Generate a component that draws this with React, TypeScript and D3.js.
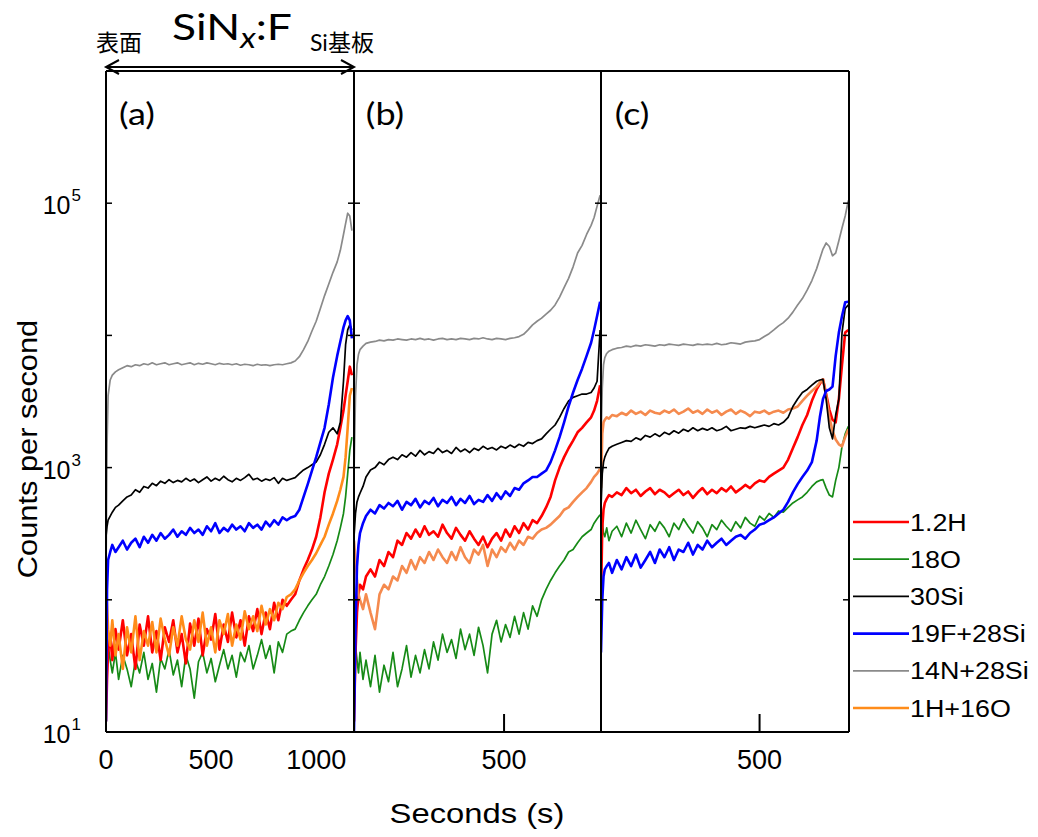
import React from "react";
import * as d3 from "d3";

// ---------- data: counts per second vs. sputter time (s) ----------
const seriesNames = ["1.2H", "18O", "30Si", "19F+28Si", "14N+28Si", "1H+16O"];
const seriesColors = ["#ff0000", "#168a16", "#000000", "#0000ff", "#8a8a8a", "#ff8c1a"];
const panelLabels = ["(a)", "(b)", "(c)"];
const yLabelExps = [1, 3, 5];
const xTickLabelsA = [0, 500, 1000];
const xTickLabelsB = [500];
const xTickLabelsC = [500];

// panel (a)
const timesA = [0, 5, 10, 20, 30, 45, 60,
  80, 100, 120, 140, 160, 180, 200, 220, 240, 260,
  280, 300, 320, 340, 360, 380, 400, 420, 440, 460,
  480, 500, 520, 540, 560, 580, 600, 620, 640, 660,
  680, 700, 720, 740, 760, 780, 800, 820, 840, 860,
  880, 900, 920, 940, 960, 980, 1000, 1020, 1040, 1060,
  1080, 1100, 1115, 1130, 1140, 1150, 1160, 1170];
const h12A = [12, 25, 40, 55, 35, 60, 42,
  70, 38, 55, 30, 65, 45, 75, 40, 58, 35,
  62, 48, 70, 40, 55, 33, 66, 45, 72, 38,
  60, 50, 78, 42, 65, 48, 80, 52, 70, 45,
  75, 58, 85, 55, 80, 60, 95, 70, 100, 90,
  100, 110, 140, 170, 200, 240, 300, 420, 650, 900,
  1150, 1500, 2000, 2700, 3500, 4500, 5800, 5000];
const o18A = [40, 60, 45, 35, 28, 40, 25,
  38, 30, 22, 35, 28, 40, 25, 33, 20, 36,
  30, 42, 27, 35, 22, 38, 30, 18, 34, 40,
  28, 36, 24, 32, 42, 30, 38, 26, 40, 34,
  45, 30, 38, 50, 36, 45, 28, 48, 40, 55,
  58, 60, 70, 80, 90, 100, 110, 130, 150, 180,
  220, 280, 350, 450, 600, 900, 1350, 1700];
const si30A = [300, 360, 400, 430, 460, 500, 520,
  560, 600, 620, 680, 650, 720, 700, 760, 730, 790,
  760, 810, 770, 800, 780, 830, 790, 820, 770, 810,
  850, 790, 830, 800, 860, 810, 780, 830, 800, 840,
  890, 810, 830, 790, 820, 800, 840, 760, 830, 800,
  820, 840, 900, 960, 1000, 1050, 1100, 1250, 1500, 1850,
  2000, 1800, 2200, 4500, 8500, 11000, 12000, 11000];
const f19A = [12, 120, 200, 230, 260, 230, 250,
  280, 240, 270, 290, 250, 300, 270, 310, 280, 320,
  290, 310, 340, 300, 330, 310, 350, 320, 340, 310,
  360, 330, 380, 320, 350, 330, 370, 340, 360, 330,
  380, 350, 370, 340, 390, 360, 400, 370, 420, 400,
  420, 430, 480, 600, 750, 950, 1200, 1550, 2000, 3000,
  4800, 7000, 9000, 11500, 13000, 14000, 13000, 9500];
const n14A = [150, 1500, 3500, 4600, 5000, 5300, 5500,
  5700, 5900, 5800, 6000, 5900, 6100, 6000, 6200, 6000, 6100,
  6200, 6000, 6100, 6200, 6000, 6100, 6200, 6000, 6150, 6050,
  6200, 6100, 6000, 6150, 6050, 6100, 6000, 6100, 5950, 6050,
  6000, 5900, 6050, 5950, 6000, 5900, 6000, 6050, 6000, 6100,
  6200, 6400, 6900, 7800, 9000, 10800, 12800, 16000, 20000, 24500,
  30000, 36000, 44000, 58000, 70000, 84000, 80000, 62000];
const oh17A = [120, 90, 60, 45, 70, 38, 55,
  30, 62, 40, 75, 35, 58, 45, 68, 40, 72,
  50, 38, 62, 45, 75, 50, 42, 70, 48, 80,
  45, 62, 40, 70, 55, 78, 45, 65, 50, 82,
  60, 75, 58, 90, 65, 85, 70, 95, 85, 105,
  110, 120, 140, 160, 180, 200, 225, 260, 300, 370,
  450, 560, 680, 850, 1200, 2000, 3500, 4000];

// panel (b)
const timesB = [0, 5, 10, 15, 20, 30, 40,
  55, 70, 85, 100, 115, 130, 145, 160, 175, 190,
  205, 220, 235, 250, 265, 280, 295, 310, 325, 340,
  355, 370, 385, 400, 415, 430, 445, 460, 475, 490,
  505, 520, 535, 550, 565, 580, 595, 610, 625, 640,
  655, 670, 685, 700, 715, 730, 745, 760, 775, 790,
  800, 810, 820];
const h12B = [12, 40, 80, 110, 130, 120, 150,
  170, 150, 200, 180, 230, 210, 280, 260, 320, 290,
  340, 300, 360, 310, 330, 300, 370, 320, 290, 350,
  310, 280, 330, 290, 260, 300, 250, 290, 320, 280,
  340, 300, 360, 320, 380, 340, 400, 380, 430, 500,
  600, 800, 1000, 1200, 1400, 1600, 1850, 2000, 2200, 2400,
  2700, 3200, 4200];
const o18B = [60, 45, 35, 28, 40, 25, 35,
  22, 38, 20, 32, 24, 40, 22, 30, 45, 26,
  38, 28, 42, 30, 48, 35, 55, 40, 50, 36,
  60, 42, 55, 38, 62, 45, 28, 55, 70, 48,
  65, 52, 75, 55, 80, 60, 90, 75, 100, 120,
  140, 160, 180, 200, 230, 240, 270, 300, 320, 340,
  380, 410, 440];
const si30B = [300, 450, 550, 600, 640, 720, 850,
  960, 1000, 1100, 1050, 1150, 1200, 1150, 1250, 1200, 1300,
  1220, 1350, 1250, 1320, 1280, 1400, 1300, 1350, 1280, 1420,
  1320, 1380, 1300, 1400, 1350, 1450, 1380, 1420, 1360, 1450,
  1400, 1480, 1420, 1500, 1450, 1550, 1520, 1600, 1650, 1800,
  1950, 2100, 2400, 2800, 3200, 3400, 3500, 3600, 3600, 3700,
  4000, 4500, 11000];
const f19B = [10, 60, 180, 260, 320, 380, 430,
  480, 450, 520, 490, 540, 510, 560, 480, 550, 520,
  580, 500, 560, 530, 590, 510, 570, 540, 600, 520,
  580, 540, 610, 530, 570, 550, 620, 560, 640, 580,
  660, 610, 700, 680, 760, 800, 850, 850, 900, 950,
  1100, 1350, 1700, 2200, 2900, 3700, 4600, 5600, 7000, 8800,
  11000, 14000, 18000];
const n14B = [900, 3500, 6000, 7200, 7800, 8300, 8700,
  8900, 9000, 9200, 9100, 9300, 9200, 9400, 9300, 9200, 9400,
  9300, 9500, 9300, 9400, 9200, 9400, 9500, 9300, 9400, 9300,
  9500, 9400, 9300, 9500, 9400, 9600, 9400, 9300, 9500, 9400,
  9300, 9500, 9600, 9800, 10200, 11000, 12000, 12800, 13500, 14500,
  15500, 17000, 19500, 23000, 27000, 33000, 42000, 48000, 58000, 68000,
  78000, 95000, 115000];
const oh17B = [280, 200, 140, 110, 100, 85, 110,
  80, 60, 110, 130, 120, 150, 140, 180, 160, 200,
  170, 210, 190, 230, 200, 240, 210, 190, 230, 200,
  250, 210, 190, 240, 220, 260, 180, 240, 210, 250,
  230, 270, 240, 280, 260, 300, 290, 320, 340, 350,
  370, 400, 430, 480, 500, 550, 600, 650, 700, 780,
  850, 900, 980];

// panel (c)
const timesC = [0, 4, 8, 12, 18, 25, 35,
  50, 65, 80, 95, 110, 125, 140, 155, 170, 185,
  200, 215, 230, 245, 260, 275, 290, 305, 320, 335,
  350, 365, 380, 395, 410, 425, 440, 455, 470, 485,
  500, 515, 530, 545, 560, 575, 590, 605, 620, 635,
  650, 665, 680,
  690, 700, 710, 720, 730, 740, 750, 760, 770, 780];
const h12C = [100, 350, 480, 540, 580, 620, 600,
  650, 620, 700, 640, 680, 610, 660, 700, 630, 680,
  650, 600, 640, 680, 620, 660, 590, 650, 700, 630,
  680, 640, 700, 660, 720, 650, 690, 740, 700, 760,
  800, 780, 850, 900, 950, 1000, 1150, 1400, 1700, 2100,
  2500, 3200, 3900,
  4300, 4650, 3600, 2750, 2300, 2200, 3300, 6000, 10500, 11000];
const o18C = [450, 380, 320, 300, 350, 280, 330,
  360, 300, 380, 320, 400, 340, 290, 370, 330, 390,
  350, 300, 380, 340, 410, 360, 320, 390, 350, 300,
  370, 340, 400, 360, 330, 390, 350, 420, 380, 360,
  430, 400, 450, 420, 470, 460, 500, 540, 570, 600,
  650, 720, 780,
  800, 810, 700, 620, 600, 800, 1000, 1450, 1800, 2050];
const si30C = [500, 900, 1100, 1200, 1300, 1400, 1450,
  1500, 1550, 1600, 1580, 1680, 1620, 1750, 1700, 1800, 1720,
  1850, 1780, 1900, 1820, 1950, 1880, 2000, 1900, 1980, 1920,
  2000, 1900, 1950, 2050, 1900, 1950, 2000, 1980, 2050, 2000,
  2050, 2100, 2050, 2150, 2100, 2200, 2400, 2900, 3300, 3700,
  3900, 4200, 4500,
  4600, 4650, 3300, 2000, 1650, 2500, 3300, 10500, 16000, 17000];
const f19C = [40, 100, 150, 170, 180, 190, 160,
  200, 170, 210, 180, 220, 175, 200, 230, 190, 240,
  210, 250, 200, 240, 230, 270, 220, 260, 240, 280,
  250, 270, 290, 260, 280, 300, 310, 290, 320, 340,
  370, 380, 400, 420, 450, 480, 550, 650, 750, 850,
  950, 1100, 1600,
  2400, 3300, 3800, 3900, 4100, 7000, 10500, 14000, 17800, 18000];
const n14C = [1500, 4000, 6000, 6800, 7300, 7600, 7800,
  8000, 8100, 8300, 8200, 8400, 8300, 8500, 8400, 8300, 8500,
  8400, 8600, 8500, 8400, 8600, 8500, 8400, 8600, 8500, 8600,
  8500, 8700, 8500, 8600, 8800, 8700, 8600, 8900, 9000, 9100,
  9300, 9800, 10300, 11000, 11800, 12500, 13500, 15000, 17000, 19000,
  22000, 26000, 32000,
  38000, 45000, 50000, 47000, 40000, 42000, 52000, 65000, 80000, 105000];
const oh17C = [700, 1800, 2200, 2300, 2400, 2350, 2500,
  2450, 2600, 2500, 2700, 2550, 2650, 2500, 2700, 2600, 2550,
  2700, 2600, 2750, 2550, 2650, 2800, 2600, 2700, 2550, 2750,
  2600, 2700, 2500, 2650, 2750, 2550, 2700, 2600, 2450, 2650,
  2600, 2700, 2550, 2650, 2700, 2600, 2750, 2800, 2900, 3200,
  3500, 3800, 4100,
  4400, 4650, 3500, 2400, 1900, 1630, 1500, 1450, 1700, 1950];

// ---------- layout ----------
const W = 1038;
const H = 837;
const TOP = 71;
const BOTTOM = 732;
const EDGES = [106, 354, 601, 849];

const panels = [
  { label: panelLabels[0], times: timesA, tMax: 1180, series: [h12A, o18A, si30A, f19A, n14A, oh17A], orange: "#ff8c1a", ticks: xTickLabelsA, tickMarks: false },
  { label: panelLabels[1], times: timesB, tMax: 823, series: [h12B, o18B, si30B, f19B, n14B, oh17B], orange: "#f58a4e", ticks: xTickLabelsB, tickMarks: true },
  { label: panelLabels[2], times: timesC, tMax: 782, series: [h12C, o18C, si30C, f19C, n14C, oh17C], orange: "#f58a4e", ticks: xTickLabelsC, tickMarks: true },
];

const widths = [2.6, 1.7, 1.7, 2.6, 1.7, 2.6];
const drawOrder = [4, 1, 0, 5, 2, 3];

const SANS = "'Liberation Sans', Arial, sans-serif";
const HUMAN = "Lato, 'Open Sans', sans-serif";
const CJK = "'Noto Sans CJK JP', 'Noto Sans CJK SC', sans-serif";

function St({ x, y, sx = 1, fs, family, anchor = "start", rotate = 0, children }: any) {
  const tr = `translate(${x},${y})${rotate ? ` rotate(${rotate})` : ""} scale(${sx},1)`;
  return (
    <text transform={tr} fontSize={fs} fontFamily={family} textAnchor={anchor} fill="#000">
      {children}
    </text>
  );
}

export default function App() {
  const y = d3.scaleLog().domain([10, 1e6]).range([BOTTOM, TOP]).clamp(true);
  const decades = d3.range(1, 7).map((e) => Math.pow(10, e));

  return (
    <svg width={W} height={H} style={{ position: "absolute", left: 0, top: 0, background: "#fff" }}>
      <defs>
        {panels.map((p, i) => (
          <clipPath id={`clip${i}`} key={i}>
            <rect x={EDGES[i]} y={TOP} width={EDGES[i + 1] - EDGES[i]} height={BOTTOM - TOP} />
          </clipPath>
        ))}
      </defs>
      <rect x={0} y={0} width={W} height={H} fill="#fff" />

      {panels.map((p, i) => {
        const x = d3.scaleLinear().domain([0, p.tMax]).range([EDGES[i], EDGES[i + 1]]);
        const line = d3
          .line<number>()
          .x((_, k) => x(p.times[k]))
          .y((v) => y(Math.max(10.2, v)));
        return (
          <g key={i}>
            <g clipPath={`url(#clip${i})`}>
              {drawOrder.map((s) => (
                <path
                  key={s}
                  d={line(p.series[s]) || ""}
                  fill="none"
                  stroke={s === 5 ? p.orange : seriesColors[s]}
                  strokeWidth={widths[s]}
                  strokeLinejoin="round"
                />
              ))}
            </g>
            {p.ticks.map((t) => (
              <g key={t}>
                {p.tickMarks && (
                  <line x1={x(t)} x2={x(t)} y1={BOTTOM} y2={BOTTOM - 18} stroke="#000" strokeWidth={2} />
                )}
                <St x={x(t)} y={769} fs={27} family={SANS} anchor="middle">{t}</St>
              </g>
            ))}
            <St x={EDGES[i] + 31} y={125} fs={30} sx={1.2} family={HUMAN} anchor="middle">{p.label}</St>
            {/* y ticks, pointing into this panel from both of its edges */}
            {decades.map((d) => (
              <g key={d}>
                <line x1={EDGES[i]} x2={EDGES[i] + 6} y1={y(d)} y2={y(d)} stroke="#000" strokeWidth={1.5} />
                <line x1={EDGES[i + 1] - 6} x2={EDGES[i + 1]} y1={y(d)} y2={y(d)} stroke="#000" strokeWidth={1.5} />
              </g>
            ))}
          </g>
        );
      })}

      {/* frame */}
      <line x1={EDGES[0]} x2={EDGES[3]} y1={TOP} y2={TOP} stroke="#000" strokeWidth={2} />
      <line x1={EDGES[0]} x2={EDGES[3]} y1={BOTTOM} y2={BOTTOM} stroke="#000" strokeWidth={2} />
      {EDGES.map((e) => (
        <line key={e} x1={e} x2={e} y1={TOP} y2={BOTTOM} stroke="#000" strokeWidth={2} />
      ))}

      {/* y tick labels */}
      {yLabelExps.map((e) => (
        <text key={e} x={81} y={y(Math.pow(10, e)) + 11} fontSize={25} fontFamily={SANS} textAnchor="end">
          10
          <tspan fontSize={17} dx={1} dy={-13}>{e}</tspan>
        </text>
      ))}

      {/* axis titles */}
      <St x={37} y={449} fs={28} sx={1.1} rotate={-90} family={SANS} anchor="middle">Counts per second</St>
      <St x={477} y={823} fs={28} sx={1.17} family={SANS} anchor="middle">Seconds (s)</St>

      {/* header: layer annotation with double arrow */}
      <St x={232} y={40} fs={37} sx={1.2} family={HUMAN} anchor="middle">
        SiN<tspan fontStyle="italic" fontSize={28} dy={8}>x</tspan><tspan dy={-8}>:F</tspan>
      </St>
      <St x={96} y={51} fs={23} family={CJK}>表面</St>
      <St x={310} y={51} fs={23} family={CJK}><tspan fontFamily={HUMAN}>Si</tspan>基板</St>
      <g stroke="#000" strokeWidth={2} fill="none">
        <line x1={EDGES[0]} x2={EDGES[1]} y1={67} y2={67} />
        <polyline points={`${EDGES[0] + 13},60 ${EDGES[0]},67 ${EDGES[0] + 13},74`} />
        <polyline points={`${EDGES[1] - 13},60 ${EDGES[1]},67 ${EDGES[1] - 13},74`} />
      </g>

      {/* legend */}
      {seriesNames.map((n, i) => {
        const ly = 522 + i * 37.2;
        return (
          <g key={n}>
            <line x1={853} x2={909} y1={ly} y2={ly} stroke={seriesColors[i]} strokeWidth={widths[i]} />
            <St x={910} y={ly + 8.5} fs={24} sx={1.12} family={SANS}>{n}</St>
          </g>
        );
      })}
    </svg>
  );
}
